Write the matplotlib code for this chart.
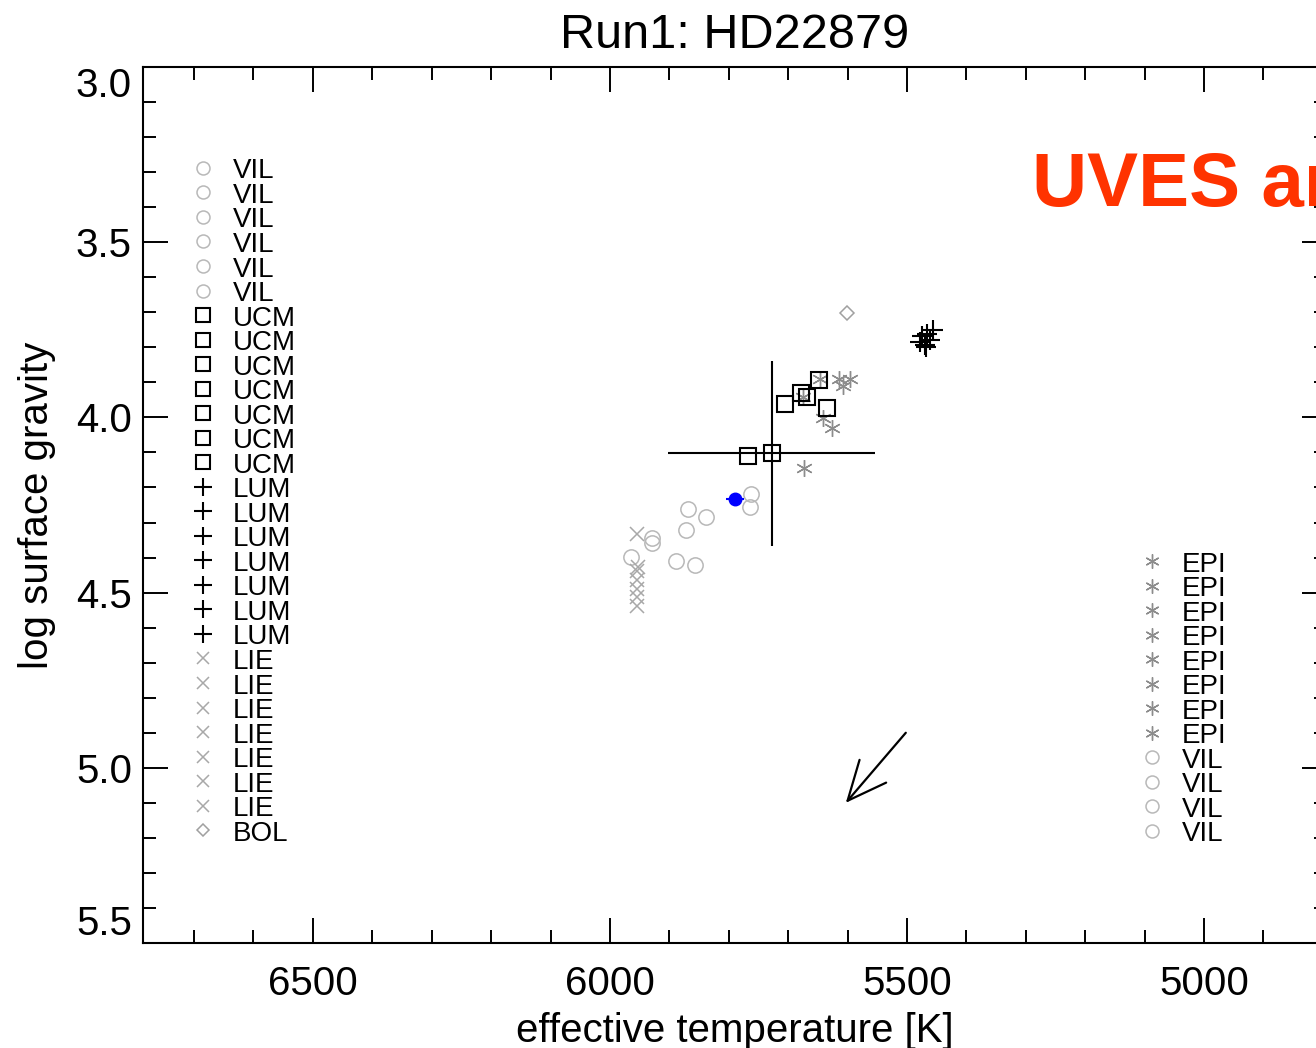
import numpy as np
import matplotlib
matplotlib.use('Agg')
import matplotlib.pyplot as plt
from matplotlib.ticker import MultipleLocator, FormatStrFormatter

plt.rcParams['font.family'] = ['Liberation Sans', 'DejaVu Sans']

#%% Data (one row per node result, in legend order)

nodes = ['VIL'] * 6 + ['UCM'] * 7 + ['LUM'] * 7 + ['LIE'] * 7 + ['BOL'] + ['EPI'] * 8 + ['VIL'] * 4

teff = [5762, 5765, 5868, 5838, 5872, 5930,                  # VIL
        5768, 5728, 5705, 5679, 5669, 5648, 5635,            # UCM
        5456, 5466, 5478, 5468, 5462, 5475, 5470,            # LUM
        5955, 5952, 5954, 5954, 5954, 5954, 5954,            # LIE
        5601,                                                # BOL
        5646, 5614, 5596, 5608, 5675, 5642, 5626, 5673,      # EPI
        5930, 5965, 5889, 5856]                              # VIL

logg = [4.219, 4.255, 4.261, 4.283, 4.321, 4.345,
        4.110, 4.103, 3.963, 3.931, 3.943, 3.893, 3.974,
        3.751, 3.762, 3.785, 3.799, 3.779, 3.768, 3.793,
        4.333, 4.427, 4.438, 4.464, 4.490, 4.513, 4.538,
        3.703,
        3.891, 3.891, 3.891, 3.910, 3.941, 4.003, 4.031, 4.143,
        4.359, 4.397, 4.409, 4.421]

# mean with spread
mean_teff, mean_logg = 5728, 4.103
err_teff, err_logg = 175, 0.265

# reference value (blue)
ref_teff, ref_logg = 5790, 4.233
ref_err_teff, ref_err_logg = 15, 0.008

# arrow (start -> end)
arrow_start = (5502, 4.90)
arrow_end = (5603, 5.10)

#%% Styles

styles = {
    'VIL': dict(marker='o', ms=11, mfc='none', mec='#b8b8b8', mew=1.1),
    'UCM': dict(marker='s', ms=12, mfc='none', mec='black', mew=1.5),
    'LUM': dict(marker='+', ms=15, mec='black', mew=1.5),
    'LIE': dict(marker='x', ms=10, mec='#a8a8a8', mew=1.1),
    'BOL': dict(marker='D', ms=7, mfc='none', mec='#a0a0a0', mew=1.1),
    'EPI': dict(marker=(6, 2, 0), ms=12, mec='#8c8c8c', mew=1.0),
}
draw_order = ['VIL', 'LIE', 'EPI', 'BOL', 'UCM', 'LUM']

#%% Figure

fig = plt.figure(figsize=(13.16, 10.48), dpi=100)
ax = fig.add_axes([143 / 1316, 1 - 943 / 1048, 1184 / 1316, 876 / 1048])

nodes_a = np.array(nodes)
teff_a = np.array(teff)
logg_a = np.array(logg)

for nd in draw_order:
    m = nodes_a == nd
    ax.plot(teff_a[m], logg_a[m], ls='none', **styles[nd])

# error cross of the mean
ax.errorbar(mean_teff, mean_logg, xerr=err_teff, yerr=err_logg,
            fmt='none', ecolor='black', elinewidth=1.5, capsize=0)

# reference point
ax.errorbar(ref_teff, ref_logg, xerr=ref_err_teff, yerr=ref_err_logg,
            fmt='o', ms=9, color='#0000ff', elinewidth=1.5, capsize=0)

ax.annotate('', xy=arrow_end, xytext=arrow_start,
            arrowprops=dict(arrowstyle='->,head_length=1.0,head_width=0.45',
                            mutation_scale=28, lw=1.6, color='black',
                            shrinkA=0, shrinkB=0))

# per-point legend in two columns
n_left = 28
row_step = 0.07
for i, nd in enumerate(nodes):
    if i < n_left:
        xs, xl, y = 6685, 6635, 3.288 + i * row_step
    else:
        xs, xl, y = 5087, 5037, 4.410 + (i - n_left) * row_step
    st = dict(styles[nd])
    st['ms'] = st['ms'] * 0.85
    ax.plot(xs, y, ls='none', **st)
    ax.text(xl, y + 0.03, nd, fontsize=20, va='baseline', ha='left', color='black')

# axes
ax.set_xlim(6786, 4793)
ax.set_ylim(5.5, 3.0)
ax.xaxis.set_major_locator(MultipleLocator(500))
ax.xaxis.set_minor_locator(MultipleLocator(100))
ax.yaxis.set_major_locator(MultipleLocator(0.5))
ax.yaxis.set_minor_locator(MultipleLocator(0.1))
ax.yaxis.set_major_formatter(FormatStrFormatter('%.1f'))
ax.tick_params(which='both', direction='in', top=True, right=True,
               width=1.4, labelsize=29)
ax.tick_params(which='major', length=18)
ax.tick_params(which='minor', length=9.5)
ax.tick_params(axis='x', pad=16)
ax.tick_params(axis='y', pad=8)
for sp in ax.spines.values():
    sp.set_linewidth(1.5)

fig.canvas.draw()
ylabels = ax.get_yticklabels()
for lab in ylabels:
    if lab.get_text() == '3.0':
        lab.set_va('top')
    elif lab.get_text() == '5.5':
        lab.set_va('bottom')

ax.set_xlabel('effective temperature [K]', fontsize=29, labelpad=6)
ax.set_ylabel('log surface gravity', fontsize=29, labelpad=14)
ax.set_title('Run1: HD22879', fontsize=35, pad=14)

fig.text(1032 / 1316, 1 - 206 / 1048, 'UVES and FEROS', fontsize=55,
         fontweight='bold', color='#ff3300', ha='left', va='baseline')

plt.savefig('out.png', dpi=100)
